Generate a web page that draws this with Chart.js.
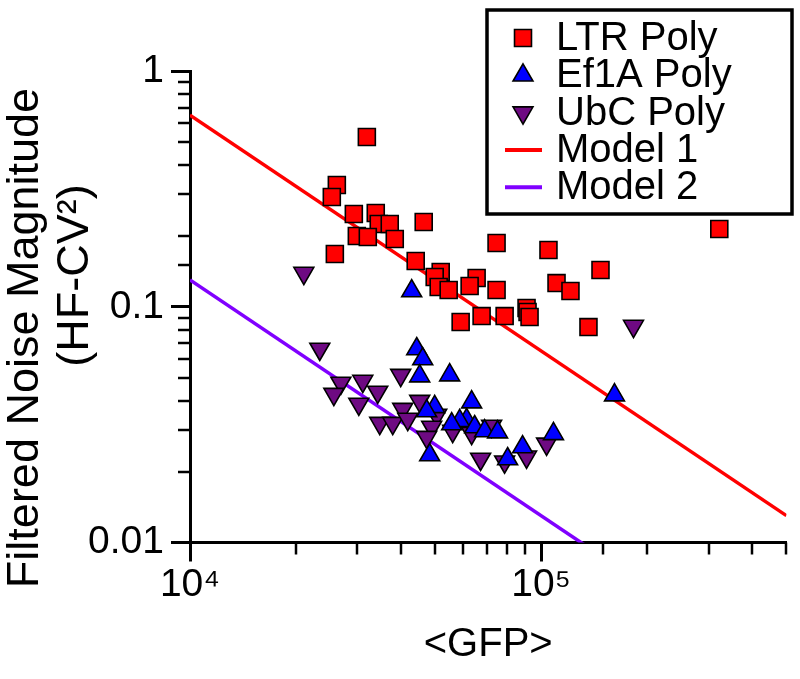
<!DOCTYPE html>
<html>
<head>
<meta charset="utf-8">
<script src="https://cdn.jsdelivr.net/npm/chart.js@4.4.0/dist/chart.umd.min.js"></script>
<style>
html,body{margin:0;padding:0;background:#fff;}
#wrap{width:800px;height:679px;position:relative;}
</style>
</head>
<body>
<div id="wrap"><canvas id="c" width="800" height="679"></canvas></div>
<script>
// ---- data ----
const ltrX = [31900, 26200, 25350, 29290, 33820, 34490, 37070, 29870, 32100, 38310, 46320, 25860, 43950, 51780, 49780, 51100, 54560, 65540, 62600, 74700, 105000, 74700, 110700, 121300, 147700, 322000, 59020, 67720, 78760, 90940, 91530, 92750, 136500];
const ltrY = [0.525, 0.3285, 0.292, 0.2474, 0.2498, 0.2244, 0.2244, 0.1996, 0.1976, 0.1938, 0.2288, 0.1674, 0.1563, 0.1404, 0.1337, 0.1213, 0.1178, 0.1324, 0.1225, 0.1864, 0.174, 0.1178, 0.126, 0.1166, 0.1432, 0.2137, 0.0862, 0.0913, 0.0913, 0.0988, 0.095, 0.0905, 0.082];

const ef1aX = [42810, 44240, 46020, 45120, 54920, 63430, 49780, 47240, 61380, 58640, 55650, 64690, 69070, 75190, 48170, 80310, 88600, 108500, 161900];
const ef1aY = [0.1166, 0.0662, 0.06, 0.0508, 0.0513, 0.0394, 0.0376, 0.0361, 0.0331, 0.0328, 0.0318, 0.0309, 0.0297, 0.0294, 0.0235, 0.0226, 0.0254, 0.0289, 0.0422];

const ubcX = [21100, 23430, 26900, 25690, 31060, 34260, 30260, 39830, 45120, 40360, 34710, 37800, 41710, 50440, 48810, 47240, 56010, 63430, 72310, 67280, 78760, 90940, 103700, 183400];
const ubcY = [0.139, 0.0662, 0.0475, 0.0426, 0.0484, 0.0435, 0.0387, 0.0513, 0.0398, 0.0368, 0.0321, 0.0321, 0.0334, 0.0347, 0.0309, 0.028, 0.0297, 0.0291, 0.0312, 0.0226, 0.022, 0.0231, 0.0262, 0.0828];

const modelX = [10000, 500000];
const model1Y = [0.65, 0.013];
const model2Y = [0.13, 0.0026];

const seriesNames = ['LTR Poly', 'Ef1A Poly', 'UbC Poly', 'Model 1', 'Model 2'];
const xMajorValues = [1e4, 1e5];
const xTickLabels = ['10\u2074', '10\u2075'];
const yMajorValues = [0.01, 0.1, 1];
const yTickLabels = ['0.01', '0.1', '1'];
const xTitle = '<GFP>';
const yTitle = ['Filtered Noise Magnitude', '(HF-CV\u00B2)'];

// ---- helpers ----
const pts = (xs, ys) => xs.map((x, i) => ({x: x, y: ys[i]}));
const isMajor = v => Math.abs(Math.log10(v) - Math.round(Math.log10(v))) < 1e-6;
const labelFor = (v, vals, labels) => {
  for (let i = 0; i < vals.length; i++) {
    if (Math.abs(Math.log10(v) - Math.log10(vals[i])) < 1e-6) return labels[i];
  }
  return '';
};
const FONT = "'Liberation Sans', Arial, Helvetica, sans-serif";
// the two title lines sit off-centre in the reference: pad them with spaces
const yTitleShown = [yTitle[0] + '     ', '     ' + yTitle[1]];

const minorTicks = {
  id: 'minorTicks',
  afterDraw(chart) {
    const ctx = chart.ctx;
    ctx.save();
    ctx.strokeStyle = '#000';
    ctx.lineWidth = 2.5;
    const xs = chart.scales.x, ys = chart.scales.y;
    const ca = chart.chartArea;
    xs.ticks.forEach(t => {
      if (isMajor(t.value)) return;
      const px = Math.round(xs.getPixelForValue(t.value));
      ctx.beginPath(); ctx.moveTo(px, ca.bottom); ctx.lineTo(px, ca.bottom + 12); ctx.stroke();
    });
    ys.ticks.forEach(t => {
      if (isMajor(t.value)) return;
      const py = Math.round(ys.getPixelForValue(t.value));
      ctx.beginPath(); ctx.moveTo(ca.left, py); ctx.lineTo(ca.left - 12, py); ctx.stroke();
    });
    ctx.restore();
  }
};

const boxLegend = {
  id: 'boxLegend',
  afterDraw(chart) {
    const ctx = chart.ctx;
    ctx.save();
    ctx.lineWidth = 3.5;
    ctx.strokeStyle = '#000';
    ctx.fillStyle = '#fff';
    ctx.fillRect(487, 10, 305, 204);
    ctx.strokeRect(487, 10, 305, 204);
    const rowH = 37.3;
    chart.data.datasets.forEach((ds, i) => {
      const y = 38 + i * rowH;
      if (ds.showLine) {
        ctx.strokeStyle = ds.borderColor;
        ctx.lineWidth = 4;
        ctx.beginPath(); ctx.moveTo(505, y); ctx.lineTo(542, y); ctx.stroke();
      } else {
        ctx.fillStyle = ds.pointBackgroundColor;
        ctx.strokeStyle = ds.pointBorderColor;
        ctx.lineWidth = ds.pointBorderWidth;
        Chart.helpers.drawPoint(ctx, {pointStyle: ds.pointStyle, radius: ds.pointRadius, rotation: ds.pointRotation || 0, borderWidth: ds.pointBorderWidth}, 523, y);
      }
      ctx.fillStyle = '#000';
      ctx.font = '40px ' + FONT;
      ctx.textBaseline = 'middle';
      ctx.textAlign = 'left';
      ctx.fillText(ds.label, 556, y + 1);
    });
    ctx.restore();
  }
};

new Chart(document.getElementById('c'), {
  type: 'scatter',
  data: {
    datasets: [
      {label: seriesNames[0], data: pts(ltrX, ltrY), pointStyle: 'rect', pointRadius: 12, pointBackgroundColor: '#FF0000', pointBorderColor: '#000', pointBorderWidth: 1.6, pointRotation: 0},
      {label: seriesNames[1], data: pts(ef1aX, ef1aY), pointStyle: 'triangle', pointRadius: 11.5, pointBackgroundColor: '#0000FF', pointBorderColor: '#000', pointBorderWidth: 1.6, pointRotation: 0},
      {label: seriesNames[2], data: pts(ubcX, ubcY), pointStyle: 'triangle', pointRadius: 11.5, pointBackgroundColor: '#6E0A82', pointBorderColor: '#000', pointBorderWidth: 1.6, pointRotation: 180},
      {label: seriesNames[3], data: pts(modelX, model1Y), showLine: true, borderColor: '#FF0000', borderWidth: 3.5, pointRadius: 0, fill: false},
      {label: seriesNames[4], data: pts(modelX, model2Y), showLine: true, borderColor: '#8000FF', borderWidth: 3.5, pointRadius: 0, fill: false}
    ]
  },
  options: {
    responsive: false,
    animation: false,
    devicePixelRatio: 1,
    layout: {padding: {top: 71, right: 12, left: 0, bottom: 0}},
    plugins: {legend: {display: false}, tooltip: {enabled: false}},
    scales: {
      x: {
        type: 'logarithmic', min: 1e4, max: 5e5, position: 'bottom',
        afterFit(s) { s.height = 136.5; },
        border: {display: true, color: '#000', width: 3},
        grid: {display: true, drawOnChartArea: false, drawTicks: true, tickLength: 19, tickWidth: 3,
               tickColor: c => (c.tick && isMajor(c.tick.value)) ? '#000' : 'rgba(0,0,0,0)'},
        ticks: {autoSkip: false, maxRotation: 0, minRotation: 0, padding: 0, color: '#000',
                font: {family: FONT, size: 39},
                callback: v => labelFor(v, xMajorValues, xTickLabels)},
        title: {display: true, text: xTitle, color: '#000', font: {family: FONT, size: 40}, padding: {top: 0, bottom: 10}}
      },
      y: {
        type: 'logarithmic', min: 0.01, max: 1, position: 'left',
        afterFit(s) { s.width = 190; },
        border: {display: true, color: '#000', width: 3},
        grid: {display: true, drawOnChartArea: false, drawTicks: true, tickLength: 19, tickWidth: 3,
               tickColor: c => (c.tick && isMajor(c.tick.value)) ? '#000' : 'rgba(0,0,0,0)'},
        ticks: {autoSkip: false, padding: 7, color: '#000',
                font: {family: FONT, size: 39},
                callback: v => labelFor(v, yMajorValues, yTickLabels)},
        title: {display: true, text: yTitleShown, color: '#000', font: {family: FONT, size: 45, lineHeight: 1.1}, padding: {top: 1, bottom: 0}}
      }
    }
  },
  plugins: [minorTicks, boxLegend]
});
</script>
</body>
</html>
